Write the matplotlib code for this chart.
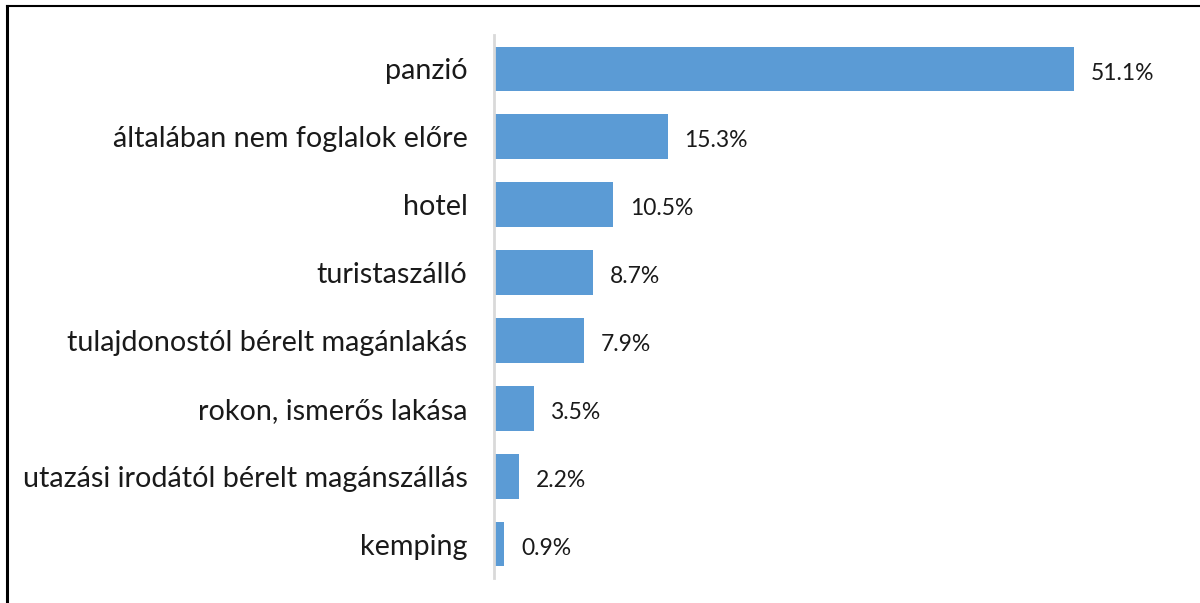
import matplotlib.pyplot as plt
from matplotlib.lines import Line2D

categories = ['panzió', 'általában nem foglalok előre', 'hotel', 'turistaszálló',
              'tulajdonostól bérelt magánlakás', 'rokon, ismerős lakása',
              'utazási irodától bérelt magánszállás', 'kemping']
values = [51.1, 15.3, 10.5, 8.7, 7.9, 3.5, 2.2, 0.9]

plt.rcParams['font.family'] = ['Lato', 'DejaVu Sans']

fig = plt.figure(figsize=[12, 6.03], dpi=100)
ax = fig.add_axes([494/1200, 1-578/603, 681/1200, 543/603])

y = range(len(categories))
ax.barh(y, values, height=0.66, color='#5b9bd5')
ax.set_ylim(len(categories)-0.5, -0.5)
ax.set_xlim(0, 60)
ax.set_yticks(list(y))
ax.set_yticklabels(categories, fontsize=20.7, color='#1a1a1a')
ax.tick_params(axis='y', length=0, pad=19)
ax.set_xticks([])
for s in ['top', 'right', 'bottom']:
    ax.spines[s].set_visible(False)
ax.spines['left'].set_color('#d9d9d9')
ax.spines['left'].set_linewidth(2)

for i, v in enumerate(values):
    ax.annotate(f'{v:.1f}%', (v, i), xytext=(12, -3), textcoords='offset points',
                va='center', ha='left', fontsize=16.5, color='#1a1a1a')

# frame of the original screenshot (left and top only)
fig.add_artist(Line2D([7/1200, 7/1200], [0, 1-6/603], color='k', lw=2.2, transform=fig.transFigure))
fig.add_artist(Line2D([7/1200, 1], [1-6/603, 1-6/603], color='k', lw=1.5, transform=fig.transFigure))

plt.savefig('out.png')
plt.close()
